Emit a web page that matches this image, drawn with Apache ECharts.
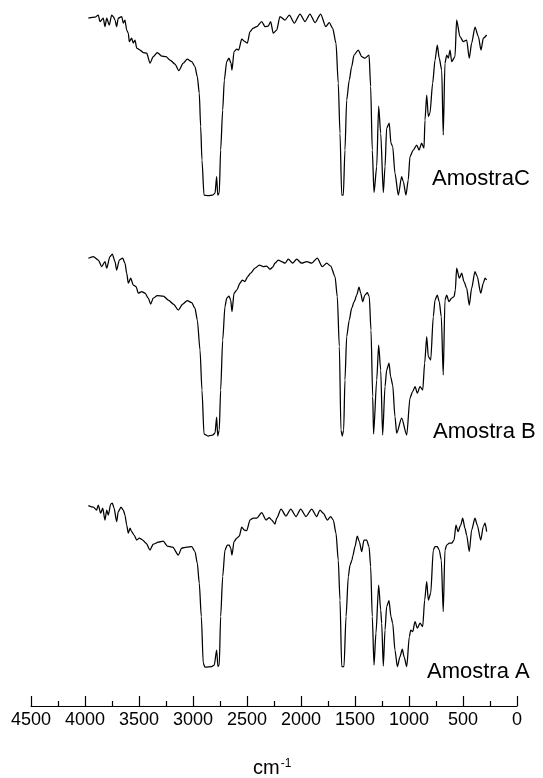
<!DOCTYPE html>
<html>
<head>
<meta charset="utf-8">
<script src="https://cdn.jsdelivr.net/npm/echarts@6/dist/echarts.min.js"></script>
<style>html,body{margin:0;padding:0;background:#fff;}#c{width:543px;height:778px;}</style>
</head>
<body>
<div id="c"></div>
<script>
// x axis ticks (wavenumber, cm-1)
const xTicks = [4500, 4000, 3500, 3000, 2500, 2000, 1500, 1000, 500, 0];
const sampleNames = ['AmostraC', 'Amostra B', 'Amostra A'];

// [wavenumber, relative transmittance]
const specC = [[3969,90.9],[3907,91.4],[3877,92.5],[3861,89.2],[3831,90.9],[3815,86.7],[3799,90.9],[3775,87.5],[3753,92.5],[3738,91.7],[3722,90],[3707,86.7],[3692,90.9],[3660,91.7],[3645,88.4],[3630,90],[3614,85],[3599,83.4],[3590,79.2],[3568,80.9],[3553,78.4],[3537,80],[3521,75.9],[3491,75],[3460,73.7],[3429,73.4],[3398,68.4],[3368,71.7],[3331,73.7],[3290,72],[3250,71.7],[3213,70],[3167,68],[3132,64.7],[3090,68.4],[3053,70.4],[3012,69.2],[2982,66.7],[2960,61.7],[2942,53.4],[2929,36.7],[2917,20],[2898,2.5],[2858,2.2],[2818,2.5],[2796,3.4],[2781,11.7],[2771,2.5],[2757,3.4],[2744,25],[2725,45],[2710,60],[2688,69.2],[2667,70.9],[2648,68.4],[2639,65],[2620,74.2],[2595,75.4],[2577,75],[2549,80.4],[2519,79.2],[2497,78.4],[2472,84.2],[2442,85.9],[2410,86.7],[2364,89.2],[2333,86.7],[2303,87],[2281,89.2],[2257,83.4],[2225,85],[2195,91.7],[2148,90],[2108,92.5],[2062,88.4],[2009,93],[1963,89.2],[1917,93],[1870,88.7],[1818,93],[1771,86.7],[1738,88.7],[1707,85.9],[1676,78.4],[1655,58.4],[1639,33.4],[1623,2.5],[1608,2.5],[1593,25],[1577,50],[1553,60],[1531,66.7],[1509,72.5],[1470,75],[1438,71.7],[1408,70.9],[1370,72.5],[1355,56.7],[1340,25],[1324,3.7],[1299,16.7],[1281,47],[1262,33.4],[1238,3.7],[1222,16.7],[1207,35.9],[1183,38.4],[1167,28.4],[1151,26.7],[1130,13.4],[1099,2.5],[1068,11.7],[1053,9.2],[1028,2.5],[1007,10],[991,21.7],[960,25],[929,27.5],[907,25],[883,28.4],[861,25.9],[852,40],[836,52.5],[821,41.7],[806,43.4],[781,58.4],[759,70],[738,77.5],[720,70.9],[697,65],[683,32.5],[667,68.4],[651,72.5],[636,70.9],[620,75],[605,69.2],[574,71.7],[559,90],[528,81.7],[497,79.2],[466,80],[442,70.9],[420,78.4],[389,86.4],[358,81.7],[333,75],[312,80.9],[281,82.5]];

const specB = [[3969,90.9],[3923,91.7],[3877,90],[3845,86.7],[3815,89.2],[3799,85.9],[3769,91.7],[3747,93],[3722,89.2],[3707,85],[3682,90],[3651,90.9],[3630,88.4],[3614,83.4],[3599,78.4],[3577,80.9],[3553,77.5],[3528,76.7],[3506,73.4],[3475,74.2],[3444,73.4],[3414,70.9],[3392,68],[3368,70.9],[3331,72.2],[3275,72],[3229,70],[3182,68],[3136,65],[3095,68],[3053,69.7],[3012,68.7],[2982,65.9],[2960,60],[2935,45],[2917,25],[2898,3],[2861,2],[2818,2.5],[2796,3.5],[2781,11.5],[2771,2],[2757,5],[2744,25],[2725,50],[2704,66.7],[2688,70.9],[2667,72],[2651,70],[2639,64.2],[2620,73.4],[2595,75],[2565,78.4],[2544,80],[2519,79.2],[2494,81.7],[2466,83.4],[2426,85.9],[2386,87.5],[2349,86.7],[2318,87],[2287,85.4],[2262,86.4],[2241,88.4],[2210,90],[2179,89.2],[2148,88.4],[2118,90.4],[2077,88.4],[2040,90.4],[1994,88.4],[1947,89.2],[1901,88.4],[1849,90.9],[1803,86.7],[1762,88.4],[1725,87],[1685,81.7],[1664,71.7],[1645,46.7],[1630,5],[1618,2],[1605,5],[1593,30],[1577,51.7],[1553,60],[1531,65.9],[1507,69.2],[1484,72.5],[1463,76.4],[1447,73.4],[1429,69.2],[1408,72.5],[1386,73.7],[1368,71.7],[1352,55],[1336,21.7],[1328,3],[1299,30],[1281,47.5],[1262,35],[1244,2.5],[1222,26.7],[1207,35],[1185,38.4],[1170,31.7],[1151,27.5],[1130,11.7],[1114,3.4],[1068,10.9],[1021,2.5],[991,21],[966,24.2],[944,26.7],[923,23.4],[898,26.7],[873,25],[855,38.4],[836,51.7],[821,41.7],[799,40],[775,61.7],[759,70],[738,72.5],[720,69.2],[701,61.7],[683,32.5],[667,70],[651,72.5],[630,69.2],[605,70.9],[583,71.7],[571,75],[559,85.9],[534,80.9],[512,83.4],[491,79.2],[466,75.9],[442,67.5],[420,75.9],[389,84.2],[368,81.7],[336,73.4],[312,78.4],[296,80.9],[281,80]];

const specA = [[3969,87.2],[3923,86.4],[3892,85],[3877,87.5],[3855,83.4],[3836,85.9],[3815,80],[3799,85],[3784,82.5],[3762,88],[3747,88.4],[3731,85.9],[3707,79.2],[3692,84.2],[3667,86.4],[3645,85],[3630,82.5],[3614,77.5],[3599,73.4],[3583,75.9],[3568,74.2],[3546,72.5],[3521,70],[3497,70.9],[3466,70],[3435,68.4],[3398,65],[3368,67.9],[3321,68.9],[3275,69.4],[3238,67],[3188,66.4],[3136,62.5],[3105,65.9],[3058,66.4],[3012,66.7],[2982,64.2],[2960,58.4],[2942,48.4],[2923,31.7],[2905,8.4],[2889,6.4],[2827,6.7],[2803,7.5],[2781,15],[2769,6.7],[2757,7.5],[2744,31.7],[2725,51.7],[2704,65],[2682,67.5],[2664,67.5],[2651,65.9],[2639,62.5],[2620,69.2],[2595,70.9],[2571,72],[2549,76.4],[2525,75],[2503,74.7],[2472,80],[2442,80.9],[2410,80.9],[2364,83.7],[2324,80],[2294,81.2],[2271,80],[2241,78],[2225,80.9],[2185,85.4],[2139,82],[2095,85.5],[2046,81.7],[2003,85.5],[1954,81.7],[1901,85.5],[1855,81.7],[1824,85],[1794,83.4],[1757,80],[1725,81.7],[1701,80],[1676,73.4],[1655,60],[1639,40],[1623,6.7],[1602,6.7],[1583,31.7],[1562,51.7],[1546,57.5],[1528,60],[1521,62],[1500,66.7],[1479,72],[1460,69.2],[1438,64.2],[1417,70],[1392,70],[1370,66.7],[1355,56.7],[1340,31.7],[1324,7.5],[1306,23.4],[1281,47.5],[1262,35],[1253,28.4],[1238,7],[1222,25],[1207,36.7],[1185,39.7],[1167,31.7],[1151,28.4],[1130,15],[1108,6.7],[1083,11.7],[1062,15.4],[1046,11.7],[1021,6.7],[997,21.7],[984,25],[966,24.2],[944,29.2],[923,25.9],[898,28.4],[873,26.7],[855,40],[836,49.2],[821,40],[799,43.4],[775,65],[759,66.7],[738,66.7],[720,65],[701,60],[683,34.2],[667,65],[651,67.5],[627,68.4],[605,68.4],[583,70],[565,77.5],[546,74.2],[521,77.5],[503,80.9],[482,75.9],[466,72.5],[442,64.2],[420,75],[389,80.9],[368,77.5],[336,70],[312,76.7],[296,78.4],[281,74.2]];

const FONT = '"Liberation Sans", Arial, sans-serif';
const chart = echarts.init(document.getElementById('c'), null, {renderer: 'canvas'});
const spectra = [specC, specB, specA];
// last panel extends down to the visible wavenumber axis
const grids = [
  {left: 31, right: 26, top: 0, height: 200},
  {left: 31, right: 26, top: 240, height: 200},
  {left: 31, right: 26, top: 480, height: 226}
];
const yMins = [0, 0, -13];
const xAxes = [0, 1, 2].map(i => ({
  type: 'value', gridIndex: i, min: 0, max: 4500, interval: 500, inverse: true,
  show: i === 2, position: 'bottom',
  axisLine: {show: true, onZero: false, lineStyle: {color: '#000', width: 1.2}},
  axisTick: {show: true, inside: true, length: 10, lineStyle: {color: '#000', width: 1.2}},
  minorTick: {show: true, splitNumber: 2, length: 5, lineStyle: {color: '#000', width: 1.2}},
  axisLabel: {show: true, color: '#000', fontSize: 18, fontFamily: FONT, margin: 5,
    formatter: v => xTicks.includes(v) ? String(v) : ''},
  splitLine: {show: false}, minorSplitLine: {show: false}
}));
const yAxes = [0, 1, 2].map(i => ({type: 'value', gridIndex: i, min: yMins[i], max: 100, show: false}));
const series = spectra.map((d, i) => ({
  type: 'line', xAxisIndex: i, yAxisIndex: i, data: d, showSymbol: false, symbol: 'none',
  smooth: 0.25, smoothMonotone: 'x',
  lineStyle: {color: '#000', width: 1.25}, animation: false, silent: true
}));
const labelPos = [[432, 179], [433, 432], [427, 672]];
const graphics = sampleNames.map((n, i) => ({
  type: 'text', x: labelPos[i][0], y: labelPos[i][1],
  style: {text: n, fontSize: 22, fontFamily: FONT, fill: '#000', align: 'left', verticalAlign: 'middle'}
}));
graphics.push({
  type: 'text', x: 253, y: 768,
  style: {text: '{a|cm}{b|-1}', fill: '#000', align: 'left', verticalAlign: 'middle',
    rich: {a: {fontSize: 20, fontFamily: FONT, fill: '#000'}, b: {fontSize: 12, fontFamily: FONT, fill: '#000', verticalAlign: 'top', lineHeight: 12, padding: [0, 0, 14, 1]}}}
});
chart.setOption({
  animation: false,
  backgroundColor: '#fff',
  grid: grids, xAxis: xAxes, yAxis: yAxes, series: series, graphic: graphics
});
</script>
</body>
</html>
